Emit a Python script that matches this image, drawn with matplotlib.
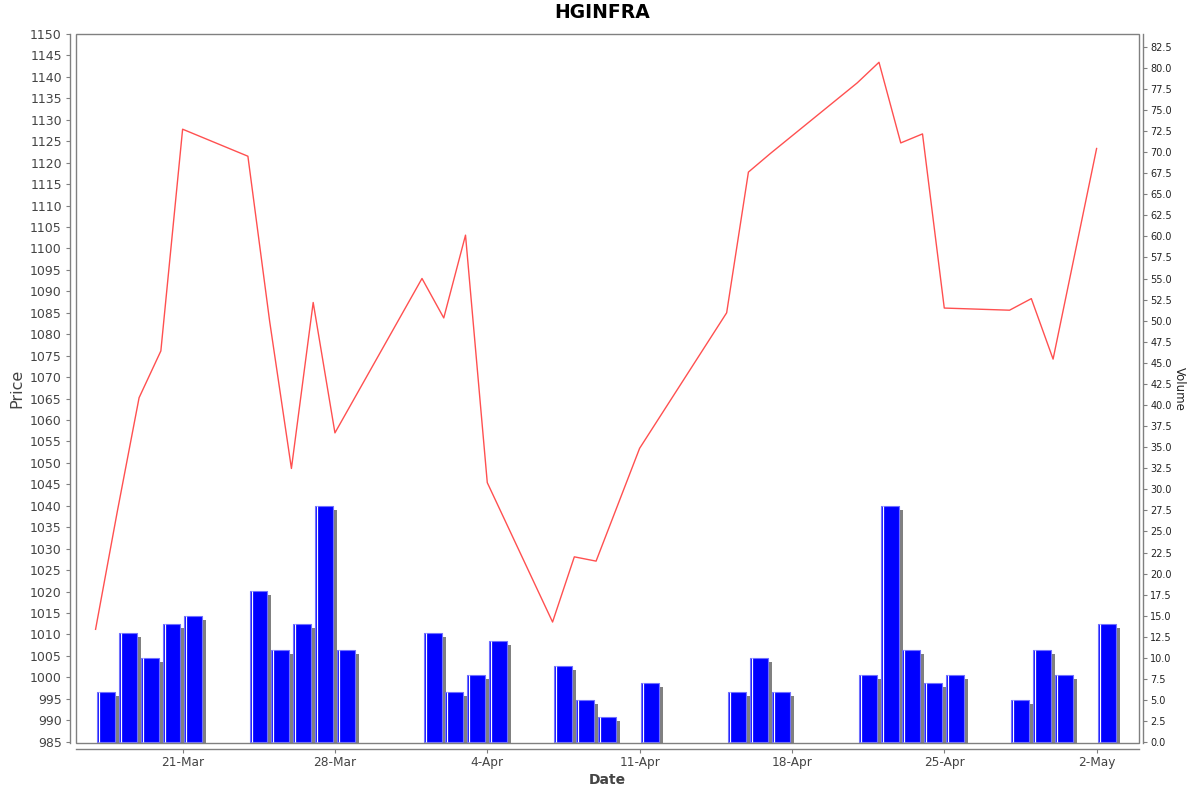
import numpy as np
import pandas as pd
import matplotlib
matplotlib.use("Agg")
import matplotlib.pyplot as plt
import matplotlib.dates as mdates
from matplotlib.transforms import ScaledTranslation
from matplotlib.patches import Rectangle

# trading days shown in the chart
dates = pd.to_datetime([
    "2025-03-17", "2025-03-18", "2025-03-19", "2025-03-20", "2025-03-21",
    "2025-03-24", "2025-03-25", "2025-03-26", "2025-03-27", "2025-03-28",
    "2025-04-01", "2025-04-02", "2025-04-03", "2025-04-04",
    "2025-04-07", "2025-04-08", "2025-04-09", "2025-04-11",
    "2025-04-15", "2025-04-16", "2025-04-17",
    "2025-04-21", "2025-04-22", "2025-04-23", "2025-04-24", "2025-04-25",
    "2025-04-28", "2025-04-29", "2025-04-30", "2025-05-02",
])
price = [1011.2, 1038.7, 1065.2, 1076.1, 1127.8,
         1121.5, 1083.0, 1048.7, 1087.4, 1057.0,
         1093.0, 1083.8, 1103.1, 1045.4,
         1012.9, 1028.1, 1027.1, 1053.4,
         1085.0, 1117.8, 1122.1,
         1138.6, 1143.4, 1124.6, 1126.7, 1086.1,
         1085.6, 1088.3, 1074.2, 1123.3]
volume = [6, 13, 10, 14, 15,
          18, 11, 14, 28, 11,
          13, 6, 8, 12,
          9, 5, 3, 7,
          6, 10, 6,
          8, 28, 11, 7, 8,
          5, 11, 8, 14]
tick_dates = pd.date_range("2025-03-21", periods=7, freq="7D")

GRAY = "#808080"
day = pd.Timedelta(days=1)

fig = plt.figure(figsize=(12, 7.92), dpi=100)
ax = fig.add_axes([0.0631, 0.0615, 0.8861, 0.8956])
ax2 = ax.twinx()
ax.set_zorder(ax2.get_zorder() + 1)
ax.patch.set_visible(False)

# volume bars with grey drop shadow (JFreeChart look)
bar_x = dates + 0.08 * day
shadow = ax2.bar(bar_x, volume, width=0.82, align="edge", color=GRAY, zorder=1)
off = ax2.transData + ScaledTranslation(0.04, -0.04, fig.dpi_scale_trans)
for p in shadow.patches:
    p.set_transform(off)
ax2.bar(bar_x, volume, width=0.82, align="edge", color="#0000ff",
        edgecolor="#7070ff", linewidth=0.8, zorder=2)
stripe = ax2.transData + ScaledTranslation(0.02, 0, fig.dpi_scale_trans)
ax2.vlines(bar_x, 0, volume, colors="white", linewidth=0.9, zorder=3,
           transform=stripe)

# price line
ax.plot(dates, price, color="#ff5050", linewidth=1.0, zorder=4)

ax.set_xlim(dates[0] - 0.912 * day, dates[-1] + 1.95 * day)
ax.set_ylim(984.63, 1150)
ax2.set_ylim(-0.12, 84.0)

ax.set_yticks(np.arange(985, 1151, 5))
ax2.set_yticks(np.arange(0, 83, 2.5))
ax2.yaxis.set_major_formatter(matplotlib.ticker.FormatStrFormatter("%.1f"))
ax.set_xticks(tick_dates)
ax.xaxis.set_major_formatter(mdates.DateFormatter("%-d-%b"))

for a in (ax, ax2):
    for s in a.spines.values():
        s.set_visible(False)
ax.spines["left"].set_visible(True)
ax.spines["bottom"].set_visible(True)
ax2.spines["right"].set_visible(True)
ax.spines["left"].set_position(("outward", 4))
ax.spines["bottom"].set_position(("outward", 4))
ax2.spines["right"].set_position(("outward", 3))
for s in (ax.spines["left"], ax.spines["bottom"], ax2.spines["right"]):
    s.set_color(GRAY)
    s.set_linewidth(1.0)

ax.add_patch(Rectangle((0, 0), 1, 1, transform=ax.transAxes, fill=False,
                       edgecolor=GRAY, linewidth=1.0, clip_on=False, zorder=5))

ax.tick_params(axis="y", length=3, width=0.8, color=GRAY, labelsize=9,
               labelcolor="#444444", pad=3)
ax.tick_params(axis="x", length=3, width=0.8, color=GRAY, labelsize=8.7,
               labelcolor="#444444", pad=2)
ax2.tick_params(axis="y", length=3, width=0.8, color=GRAY, labelsize=7,
                labelcolor="#222222", pad=2)

ax.set_ylabel("Price", fontsize=11.5, color="#444444", labelpad=4)
ax.set_xlabel("Date", fontsize=10, fontweight="bold", color="#444444", labelpad=3)
ax2.set_ylabel("Volume", fontsize=8.5, color="#222222", rotation=-90,
               labelpad=10)

fig.text(0.5015, 1 - 12.8 / 792, "HGINFRA", ha="center", va="center",
         fontsize=13.5, fontweight="bold")

fig.savefig("out.png", dpi=100)
